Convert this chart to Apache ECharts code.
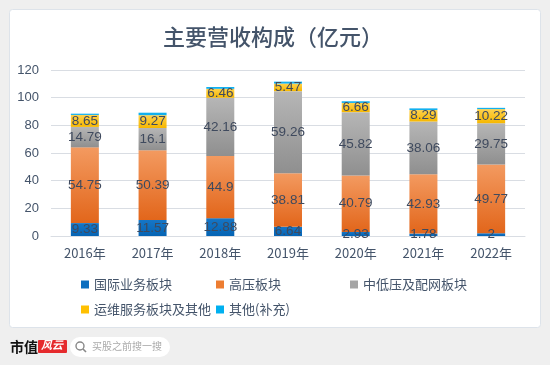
<!DOCTYPE html>
<html><head><meta charset="utf-8">
<script src="https://cdn.jsdelivr.net/npm/echarts@6/dist/echarts.min.js"></script>
<style>html,body{margin:0;padding:0;background:#efefef;}#c{width:550px;height:365px;}</style>
</head><body><div id="c"></div>
<script>
const categories = ['2016年','2017年','2018年','2019年','2020年','2021年','2022年'];
const seriesNames = ['国际业务板块','高压板块','中低压及配网板块','运维服务板块及其他','其他(补充)'];
const intl = [9.33, 11.57, 12.88, 6.64, 2.93, 1.78, 2];
const highV = [54.75, 50.39, 44.9, 38.81, 40.79, 42.93, 49.77];
const midLowV = [14.79, 16.1, 42.16, 59.26, 45.82, 38.06, 29.75];
const opsOther = [8.65, 9.27, 6.46, 5.47, 6.66, 8.29, 10.22];
const otherSupp = [0.9, 1.8, 1.3, 1.4, 1.2, 1.2, 0.9];
const yTicks = [0, 20, 40, 60, 80, 100, 120];

const FONT = '"Noto Sans CJK SC", "Liberation Sans", sans-serif';
const LABEL_COLOR = '#3f4a5e';
function grad(top, bottom){
  return new echarts.graphic.LinearGradient(0,0,0,1,[{offset:0,color:top},{offset:1,color:bottom}]);
}
const fills = [
  grad('#1676c6','#0564b4'),
  grad('#f39a60','#e2661b'),
  grad('#b6b6b6','#8f8f8f'),
  grad('#ffd24d','#f6b700'),
  '#12b0ef'
];
const legendColors = ['#0b6ebf','#ed7d31','#a5a5a5','#ffc000','#00b0f0'];
const dataSets = [intl, highV, midLowV, opsOther, otherSupp];

const chart = echarts.init(document.getElementById('c'), null, {renderer:'canvas'});
const legendPos = [[76,273],[211,273],[345,273],[76,298],[211,298]];
const option = {
  backgroundColor: '#efefef',
  animation: false,
  title: {
    text: '主要营收构成（亿元）',
    left: 268, top: 21, textAlign: 'center',
    textStyle: {fontFamily: FONT, fontSize: 22, fontWeight: 500, color: '#44546a'}
  },
  graphic: {elements: [
    {type:'rect', z:-10, shape:{x:9.5, y:9.5, width:531, height:318, r:3}, style:{fill:'#ffffff', stroke:'#dde3ea', lineWidth:1}},
    {type:'text', z:10, left:10, top:340, style:{text:'市值', font:'bold 14px "Noto Sans CJK SC"', fill:'#111'}},
    {type:'rect', z:10, shape:{x:38, y:340, width:29, height:13, r:1}, style:{fill:'#e52a2d'}},
    {type:'text', z:11, left:41, top:339, style:{text:'风云', font:'italic bold 11px "Noto Sans CJK SC"', fill:'#ffffff'}},
    {type:'rect', z:10, shape:{x:70, y:337, width:100, height:20, r:10}, style:{fill:'#ffffff'}},
    {type:'circle', z:11, shape:{cx:80, cy:346, r:4}, style:{fill:'none', stroke:'#888', lineWidth:1.4}},
    {type:'line', z:11, shape:{x1:83, y1:349, x2:86, y2:352}, style:{stroke:'#888', lineWidth:1.6}},
    {type:'text', z:11, left:92, top:341, style:{text:'买股之前搜一搜', font:'10px "Noto Sans CJK SC"', fill:'#aaaaaa'}}
  ]},
  legend: seriesNames.map((n,i)=>({
    left: legendPos[i][0], top: legendPos[i][1],
    data: [{name:n, itemStyle:{color:legendColors[i]}}],
    icon: 'rect', itemWidth: 8, itemHeight: 8,
    textStyle: {fontFamily: FONT, fontSize: 13, color: '#44546a'}
  })),
  grid: {left: 51, right: 25, top: 70, bottom: 129},
  xAxis: {
    type: 'category', data: categories,
    axisLine: {lineStyle: {color: '#d9dde3'}},
    axisTick: {show: false},
    axisLabel: {fontFamily: FONT, fontSize: 13, color: '#44546a', margin: 11}
  },
  yAxis: {
    type: 'value', min: 0, max: 120, interval: 20,
    axisLine: {show: false}, axisTick: {show: false},
    axisLabel: {fontFamily: '"Liberation Sans", sans-serif', fontSize: 13, color: '#44546a', margin: 12,
      formatter: v => yTicks.includes(v) ? String(v) : ''},
    splitLine: {lineStyle: {color: '#d9dde3'}}
  },
  series: dataSets.map((d,i)=>({
    name: seriesNames[i], type: 'bar', stack: 'total', data: d,
    barWidth: 28,
    itemStyle: {color: fills[i]},
    label: {show: i < 4, position: 'inside', fontFamily: '"Liberation Sans", sans-serif', fontSize: 13.5, color: LABEL_COLOR},
    emphasis: {disabled: true}
  }))
};
chart.setOption(option);
</script></body></html>
